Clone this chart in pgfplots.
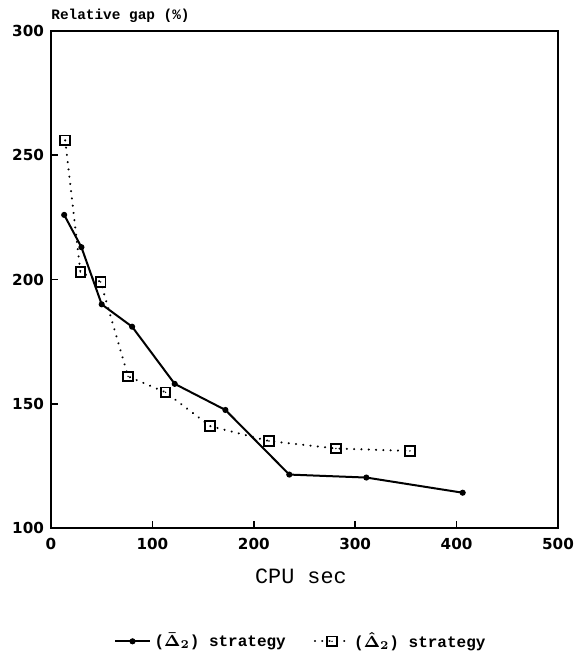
\documentclass[border=0pt]{standalone}
\usepackage{fontspec}
\usepackage{pgfplots}
\pgfplotsset{compat=1.18}
\newfontfamily\tickfont{DejaVu Sans}
\newfontfamily\monofont{Liberation Mono}

% square with a dot in the middle
\pgfdeclareplotmark{sqdot}{%
  \pgfpathrectangle{\pgfpoint{-\pgfplotmarksize}{-\pgfplotmarksize}}%
    {\pgfpoint{2\pgfplotmarksize}{2\pgfplotmarksize}}%
  \pgfusepathqstroke
  \pgfpathcircle{\pgfpointorigin}{0.4pt}%
  \pgfusepathqfill}

\begin{document}
\begin{tikzpicture}
\useasboundingbox (-25.5pt,-67pt) rectangle (261.5pt,264pt);
\begin{axis}[
  at={(0,0)}, anchor=south west,
  scale only axis, width=253.5pt, height=248.5pt,
  xmin=0, xmax=500, ymin=100, ymax=300,
  xtick={0,100,...,500}, ytick={100,150,...,300},
  xtick pos=bottom, ytick pos=left,
  tick align=inside, major tick length=3.5pt,
  axis line style={line width=1pt},
  tick style={line width=0.8pt, black},
  ticklabel style={font=\tickfont\bfseries\fontsize{7.6}{9}\selectfont},
  xticklabel style={yshift=-1.5pt},
  /pgf/number format/assume math mode=true,
  legend style={at={(axis description cs:0.495,-0.228)}, anchor=center,
    draw=none, fill=none, font=\monofont\bfseries\fontsize{8}{9}\selectfont,
    /tikz/every even column/.append style={column sep=12pt}},
  legend columns=2,
  clip=false,
]
\addplot[black, line width=1pt, mark=*, mark size=1pt]
  coordinates {(13,226) (30,213) (50,190) (80,181) (122,158) (172,147.5)
               (235,121.5) (311,120.3) (406,114.2)};
\addlegendentry{({\boldmath$\bar{\Delta}_2$}) strategy}
\addplot[black, line width=1.1pt, line cap=round, dash pattern=on 0.05pt off 3.6pt,
         mark=sqdot, mark size=2.4pt, mark options={solid, line width=0.9pt}]
  coordinates {(14,256) (29,203) (49,199) (76,161) (113,154.6) (157,141)
               (215,135) (281,132) (354,131)};
\addlegendentry{({\boldmath$\hat{\Delta}_2$}) strategy}
\node[anchor=base west, inner sep=0pt, font=\monofont\bfseries\fontsize{7.2}{8}\selectfont]
  at (axis description cs:0,1) [yshift=5.5pt] {Relative gap (\%)};
\node[anchor=base, inner sep=0pt, font=\monofont\fontsize{10.9}{13}\selectfont]
  at (axis description cs:0.493,0) [yshift=-27.5pt] {CPU sec};
\end{axis}
\end{tikzpicture}
\end{document}
